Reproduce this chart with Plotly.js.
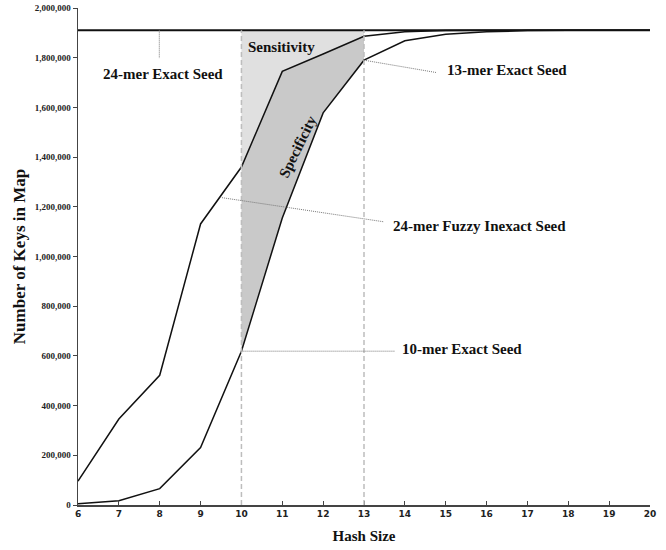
<!DOCTYPE html>
<html><head><meta charset="utf-8">
<script src="https://cdn.plot.ly/plotly-3.0.1.min.js"></script>
<style>html,body{margin:0;padding:0;background:#fff}#chart{width:666px;height:550px}</style>
</head><body><div id="chart"></div>
<script>
// Data
var hashSize = [6, 7, 8, 9, 10, 11, 12, 13, 14, 15, 16, 17, 18, 19, 20];
var fuzzyInexact24 = [96000, 346000, 522000, 1131000, 1360000, 1745000, 1815000, 1886000, 1904000, 1909000, 1910000, 1910000, 1910000, 1910000, 1910000];
var exactSeed = [5000, 17000, 66000, 231000, 619000, 1155000, 1578000, 1790000, 1868000, 1894000, 1904000, 1909000, 1910000, 1910000, 1910000];
var exact24 = [1910000, 1910000, 1910000, 1910000, 1910000, 1910000, 1910000, 1910000, 1910000, 1910000, 1910000, 1910000, 1910000, 1910000, 1910000];
var regionBounds = [10, 13];
var yTickVals = [0, 200000, 400000, 600000, 800000, 1000000, 1200000, 1400000, 1600000, 1800000, 2000000];

function sub(arr) {
  var out = [];
  for (var i = 0; i < hashSize.length; i++) {
    if (hashSize[i] >= regionBounds[0] && hashSize[i] <= regionBounds[1]) out.push(arr[i]);
  }
  return out;
}
function at(arr, x) { return arr[hashSize.indexOf(x)]; }
var regX = sub(hashSize);

var traces = [
  {x: regX, y: sub(exactSeed), mode: 'lines', line: {width: 0}, hoverinfo: 'skip', showlegend: false},
  {x: regX, y: sub(fuzzyInexact24), mode: 'lines', line: {width: 0}, fill: 'tonexty', fillcolor: '#c9c9c9', hoverinfo: 'skip', showlegend: false},
  {x: regX, y: sub(exact24), mode: 'lines', line: {width: 0}, fill: 'tonexty', fillcolor: '#e0e0e0', hoverinfo: 'skip', showlegend: false},
  {x: hashSize, y: exact24, mode: 'lines', line: {color: '#111', width: 2}, name: '24-mer Exact Seed', showlegend: false},
  {x: hashSize, y: fuzzyInexact24, mode: 'lines', line: {color: '#111', width: 1.5}, name: '24-mer Fuzzy Inexact Seed', showlegend: false},
  {x: hashSize, y: exactSeed, mode: 'lines', line: {color: '#111', width: 1.5}, name: 'Exact Seed', showlegend: false}
];

var serif = 'Liberation Serif, Times New Roman, serif';
var lblFont = {family: serif, size: 15, color: '#111', weight: 'bold'};
var leader = {color: '#777', width: 1, dash: '1px,1px'};

var shapes = [
  {type: 'line', xref: 'x', yref: 'y', x0: regionBounds[0], x1: regionBounds[0], y0: 0, y1: exact24[0], line: {color: '#bdbdbd', width: 1.5, dash: '5px,3px'}, layer: 'above'},
  {type: 'line', xref: 'x', yref: 'y', x0: regionBounds[1], x1: regionBounds[1], y0: 0, y1: exact24[0], line: {color: '#bdbdbd', width: 1.5, dash: '5px,3px'}, layer: 'above'},
  // leader lines
  {type: 'line', xref: 'x', yref: 'y', x0: 7.99, x1: 7.99, y0: exact24[0], y1: 1797000, line: leader},
  {type: 'line', xref: 'x', yref: 'y', x0: 13, x1: 14.78, y0: at(exactSeed, 13), y1: 1740000, line: leader},
  {type: 'line', xref: 'x', yref: 'y', x0: 9.475, x1: 13.47, y0: 1238000, y1: 1140000, line: leader},
  {type: 'line', xref: 'x', yref: 'y', x0: 10, x1: 13.76, y0: at(exactSeed, 10), y1: at(exactSeed, 10), line: leader}
];

var annotations = [
  {x: 8.08, y: 1734000, text: '24-mer Exact Seed', showarrow: false, xanchor: 'center', yanchor: 'middle', font: lblFont},
  {x: 10.98, y: 1844000, text: 'Sensitivity', showarrow: false, xanchor: 'center', yanchor: 'middle', font: lblFont},
  {x: 14.98, y: 1750000, text: '13-mer Exact Seed', showarrow: false, xanchor: 'left', yanchor: 'middle', font: lblFont},
  {x: 13.65, y: 1123000, text: '24-mer Fuzzy Inexact Seed', showarrow: false, xanchor: 'left', yanchor: 'middle', font: lblFont},
  {x: 13.88, y: 628000, text: '10-mer Exact Seed', showarrow: false, xanchor: 'left', yanchor: 'middle', font: lblFont},
  {x: 11.37, y: 1442000, text: 'Specificity', showarrow: false, textangle: -64, xanchor: 'center', yanchor: 'middle', font: lblFont}
];

var layout = {
  width: 666, height: 550,
  margin: {l: 78, r: 16, t: 8, b: 45},
  paper_bgcolor: '#fff', plot_bgcolor: '#fff',
  showlegend: false,
  xaxis: {
    range: [6, 20], tickvals: hashSize, ticktext: hashSize.map(String),
    showgrid: false, zeroline: false, showline: true, linecolor: '#444', linewidth: 1.5,
    ticks: 'inside', ticklen: 4, tickcolor: '#444', tickwidth: 1,
    tickfont: {family: 'DejaVu Sans, Verdana, sans-serif', size: 9, color: '#222', weight: 'bold'},
    title: {text: 'Hash Size', font: {family: serif, size: 15, color: '#111', weight: 'bold'}, standoff: 12}
  },
  yaxis: {
    range: [0, 2000000], tickvals: yTickVals,
    tickformat: ',d',
    showgrid: false, zeroline: false, showline: true, linecolor: '#444', linewidth: 1.5,
    ticks: 'outside', ticklen: 4, tickcolor: '#444', tickwidth: 1,
    tickfont: {family: serif, size: 9, color: '#222', weight: 'bold'},
    title: {text: 'Number of Keys in Map', font: {family: serif, size: 17, color: '#111', weight: 'bold'}, standoff: 5}
  },
  shapes: shapes,
  annotations: annotations
};

Plotly.newPlot('chart', traces, layout, {staticPlot: true, displayModeBar: false});
</script></body></html>
